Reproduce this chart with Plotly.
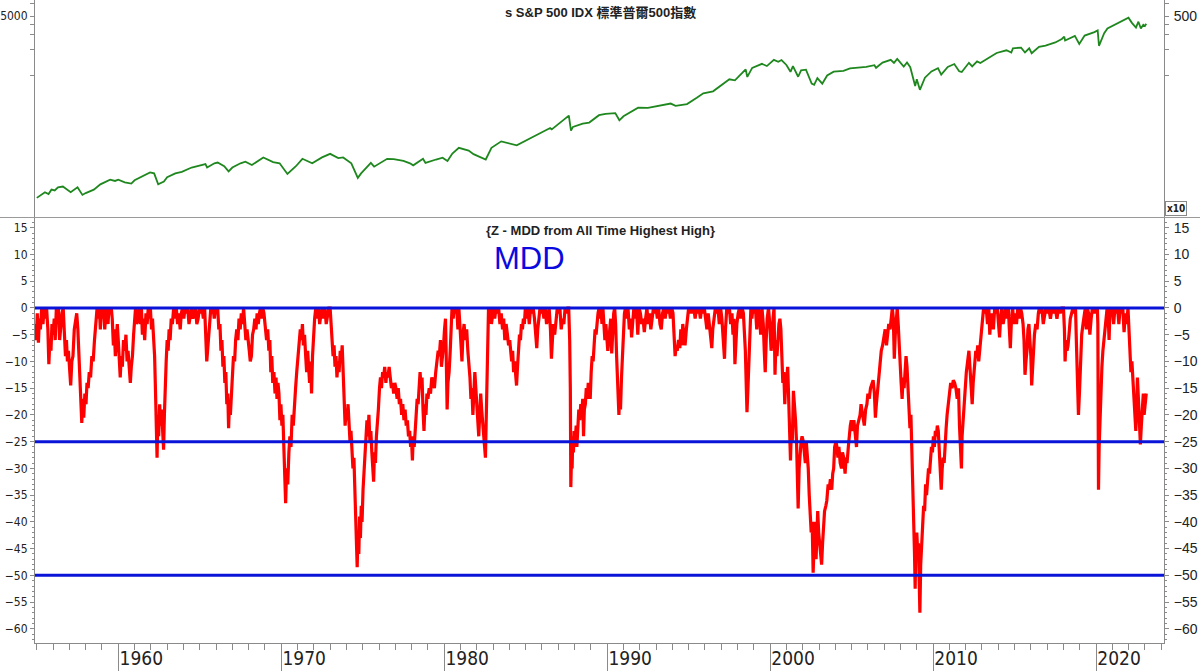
import plotly.graph_objects as go

# ---------------- data ----------------
price_year = [1955.0, 1955.3, 1955.5, 1955.72, 1955.9, 1956.1, 1956.3, 1956.6, 1956.9, 1957.08, 1957.5, 1957.8,
              1958.0, 1958.5, 1958.9, 1959.5, 1959.8, 1960.0, 1960.4, 1960.8, 1961.0, 1961.5, 1961.95, 1962.2,
              1962.45, 1962.8, 1963.0, 1963.5, 1963.9, 1964.5, 1965.0, 1965.35, 1965.45, 1965.9, 1966.1, 1966.5,
              1966.77, 1967.0, 1967.5, 1967.8, 1968.2, 1968.9, 1969.5, 1969.9, 1970.38, 1970.9, 1971.3, 1971.9,
              1972.5, 1973.0, 1973.5, 1973.8, 1974.3, 1974.7, 1974.9, 1975.5, 1975.7, 1976.5, 1976.9, 1977.5,
              1977.9, 1978.1, 1978.7, 1978.85, 1979.5, 1979.9, 1980.2, 1980.5, 1980.9, 1981.5, 1981.8, 1982.55,
              1982.9, 1983.5, 1984.45, 1984.9, 1985.5, 1985.9, 1986.5, 1986.6, 1987.65, 1987.78, 1987.9, 1988.5,
              1988.9, 1989.5, 1989.9, 1990.5, 1990.75, 1991.0, 1991.5, 1991.9, 1992.5, 1993.0, 1993.9, 1994.2,
              1994.9, 1995.5, 1995.9, 1996.5, 1996.9, 1997.5, 1997.84, 1998.5, 1998.6, 1998.9, 1999.5, 1999.8,
              2000.23, 2000.5, 2000.7, 2001.0, 2001.25, 2001.4, 2001.72, 2001.9, 2002.2, 2002.55, 2002.7, 2002.9,
              2003.2, 2003.5, 2003.9, 2004.5, 2004.9, 2005.5, 2005.9, 2006.4, 2006.5, 2006.9, 2007.4, 2007.6,
              2007.8, 2008.2, 2008.4, 2008.6, 2008.9, 2009.0, 2009.19, 2009.5, 2009.9, 2010.3, 2010.5, 2010.9,
              2011.3, 2011.6, 2011.76, 2012.2, 2012.4, 2012.7, 2012.9, 2013.5, 2013.9, 2014.5, 2014.8, 2014.9,
              2015.4, 2015.64, 2015.9, 2016.05, 2016.5, 2016.9, 2017.5, 2017.9, 2018.05, 2018.1, 2018.7, 2018.97,
              2019.3, 2019.9, 2020.1, 2020.18, 2020.5, 2020.7, 2020.9, 2021.5, 2021.99, 2022.2, 2022.45, 2022.6,
              2022.75, 2022.9, 2023.0, 2023.08]
price_value = [36, 40, 42, 40, 45, 44, 48, 49, 45, 42, 48, 39,
               41, 45, 52, 59, 57, 59, 55, 53, 58, 65, 72, 70,
               52, 56, 63, 70, 73, 82, 87, 90, 82, 92, 94, 85,
               74, 82, 92, 96, 88, 108, 95, 92, 69, 85, 104, 92,
               108, 119, 106, 108, 92, 62, 70, 93, 84, 104, 103, 98,
               92, 87, 104, 93, 102, 107, 98, 120, 140, 130, 118, 102,
               140, 167, 150, 167, 190, 211, 240, 231, 336, 224, 247, 270,
               278, 340, 353, 360, 296, 330, 380, 417, 415, 435, 466, 438,
               459, 545, 615, 650, 740, 900, 876, 1180, 960, 1229, 1370, 1290,
               1527, 1450, 1520, 1330, 1103, 1290, 965, 1150, 1170, 800, 776, 930,
               800, 1000, 1110, 1130, 1210, 1230, 1260, 1320, 1230, 1420, 1530, 1406,
               1565, 1270, 1420, 1250, 752, 900, 676, 940, 1115, 1217, 1022, 1257,
               1363, 1120, 1099, 1410, 1278, 1465, 1400, 1650, 1840, 1980, 1862, 2090,
               2130, 1867, 2090, 1829, 2170, 2250, 2450, 2690, 2873, 2581, 2930, 2351,
               2950, 3240, 3386, 2237, 3150, 3580, 3750, 4300, 4796, 4170, 3667, 4305,
               3577, 3950, 3840, 4070]

mdd_year = [
    1954.90, 1954.97, 1955.03, 1955.10, 1955.16, 1955.22, 1955.30, 1955.38, 1955.45, 1955.52, 1955.60, 1955.68,
    1955.74, 1955.80, 1955.87, 1955.93, 1956.00, 1956.07, 1956.13, 1956.20, 1956.27, 1956.33, 1956.40, 1956.47,
    1956.55, 1956.62, 1956.70, 1956.76, 1956.82, 1956.88, 1956.94, 1957.02, 1957.08, 1957.15, 1957.22, 1957.30,
    1957.38, 1957.45, 1957.52, 1957.58, 1957.64, 1957.70, 1957.76, 1957.82, 1957.88, 1957.95, 1958.02, 1958.08,
    1958.15, 1958.22, 1958.30, 1958.38, 1958.46, 1958.54, 1958.62, 1958.70, 1958.77, 1958.84, 1958.90, 1958.96,
    1959.03, 1959.10, 1959.17, 1959.23, 1959.30, 1959.37, 1959.43, 1959.50, 1959.57, 1959.63, 1959.70, 1959.76,
    1959.82, 1959.88, 1959.94, 1960.00, 1960.06, 1960.12, 1960.18, 1960.25, 1960.32, 1960.40, 1960.47, 1960.54,
    1960.60, 1960.67, 1960.74, 1960.80, 1960.87, 1960.94, 1961.00, 1961.06, 1961.12, 1961.20, 1961.28, 1961.35,
    1961.42, 1961.48, 1961.55, 1961.62, 1961.70, 1961.77, 1961.84, 1961.90, 1961.97, 1962.04, 1962.10, 1962.17,
    1962.23, 1962.28, 1962.33, 1962.38, 1962.43, 1962.48, 1962.54, 1962.60, 1962.66, 1962.72, 1962.78, 1962.83,
    1962.88, 1962.94, 1963.00, 1963.06, 1963.12, 1963.18, 1963.25, 1963.32, 1963.40, 1963.48, 1963.56, 1963.64,
    1963.72, 1963.80, 1963.87, 1963.94, 1964.02, 1964.10, 1964.18, 1964.26, 1964.34, 1964.42, 1964.50, 1964.58,
    1964.66, 1964.74, 1964.82, 1964.90, 1964.98, 1965.06, 1965.14, 1965.22, 1965.30, 1965.37, 1965.43, 1965.48,
    1965.54, 1965.61, 1965.68, 1965.75, 1965.82, 1965.89, 1965.96, 1966.03, 1966.10, 1966.17, 1966.24, 1966.30,
    1966.36, 1966.42, 1966.48, 1966.54, 1966.60, 1966.66, 1966.72, 1966.77, 1966.82, 1966.88, 1966.94, 1967.00,
    1967.07, 1967.14, 1967.20, 1967.27, 1967.34, 1967.41, 1967.48, 1967.55, 1967.62, 1967.69, 1967.76, 1967.83,
    1967.90, 1967.97, 1968.04, 1968.10, 1968.17, 1968.24, 1968.31, 1968.38, 1968.45, 1968.52, 1968.59, 1968.66,
    1968.73, 1968.80, 1968.87, 1968.94, 1969.02, 1969.10, 1969.17, 1969.24, 1969.30, 1969.36, 1969.42, 1969.48,
    1969.55, 1969.62, 1969.68, 1969.74, 1969.80, 1969.86, 1969.92, 1969.98, 1970.04, 1970.10, 1970.16, 1970.22,
    1970.27, 1970.33, 1970.40, 1970.47, 1970.53, 1970.60, 1970.67, 1970.74, 1970.81, 1970.88, 1970.95, 1971.02,
    1971.10, 1971.17, 1971.24, 1971.30, 1971.36, 1971.43, 1971.50, 1971.56, 1971.62, 1971.68, 1971.74, 1971.80,
    1971.86, 1971.92, 1971.98, 1972.05, 1972.12, 1972.20, 1972.28, 1972.36, 1972.44, 1972.52, 1972.60, 1972.68,
    1972.76, 1972.84, 1972.92, 1973.00, 1973.06, 1973.12, 1973.18, 1973.24, 1973.30, 1973.36, 1973.42, 1973.48,
    1973.55, 1973.62, 1973.68, 1973.74, 1973.80, 1973.86, 1973.92, 1973.98, 1974.04, 1974.10, 1974.16, 1974.22,
    1974.28, 1974.34, 1974.40, 1974.46, 1974.52, 1974.57, 1974.62, 1974.66, 1974.71, 1974.76, 1974.81, 1974.86,
    1974.91, 1974.96, 1975.02, 1975.08, 1975.14, 1975.20, 1975.26, 1975.32, 1975.38, 1975.44, 1975.50, 1975.56,
    1975.62, 1975.67, 1975.72, 1975.78, 1975.84, 1975.90, 1975.96, 1976.03, 1976.09, 1976.15, 1976.22, 1976.28,
    1976.35, 1976.42, 1976.48, 1976.55, 1976.62, 1976.69, 1976.76, 1976.83, 1976.90, 1976.97, 1977.04, 1977.11,
    1977.18, 1977.25, 1977.32, 1977.39, 1977.46, 1977.53, 1977.60, 1977.67, 1977.74, 1977.81, 1977.88, 1977.94,
    1978.00, 1978.05, 1978.10, 1978.16, 1978.22, 1978.28, 1978.34, 1978.40, 1978.46, 1978.52, 1978.58, 1978.64,
    1978.70, 1978.76, 1978.82, 1978.88, 1978.94, 1979.00, 1979.08, 1979.16, 1979.24, 1979.32, 1979.40, 1979.48,
    1979.56, 1979.63, 1979.70, 1979.77, 1979.83, 1979.90, 1979.96, 1980.02, 1980.08, 1980.13, 1980.18, 1980.23,
    1980.30, 1980.37, 1980.43, 1980.48, 1980.55, 1980.62, 1980.70, 1980.77, 1980.84, 1980.90, 1980.96, 1981.03,
    1981.09, 1981.15, 1981.22, 1981.30, 1981.38, 1981.45, 1981.52, 1981.58, 1981.64, 1981.70, 1981.76, 1981.82,
    1981.88, 1981.94, 1982.00, 1982.06, 1982.12, 1982.18, 1982.24, 1982.30, 1982.36, 1982.42, 1982.48, 1982.53,
    1982.58, 1982.63, 1982.68, 1982.72, 1982.78, 1982.84, 1982.90, 1982.96, 1983.03, 1983.10, 1983.18, 1983.26,
    1983.34, 1983.42, 1983.50, 1983.58, 1983.65, 1983.72, 1983.80, 1983.88, 1983.95, 1984.02, 1984.08, 1984.14,
    1984.20, 1984.26, 1984.32, 1984.38, 1984.44, 1984.50, 1984.56, 1984.62, 1984.68, 1984.74, 1984.80, 1984.86,
    1984.92, 1984.98, 1985.06, 1985.14, 1985.22, 1985.30, 1985.38, 1985.46, 1985.54, 1985.62, 1985.68, 1985.74,
    1985.80, 1985.88, 1985.96, 1986.04, 1986.12, 1986.20, 1986.28, 1986.36, 1986.44, 1986.52, 1986.58, 1986.64,
    1986.70, 1986.78, 1986.86, 1986.94, 1987.02, 1987.10, 1987.18, 1987.26, 1987.34, 1987.42, 1987.50, 1987.58,
    1987.64, 1987.70, 1987.74, 1987.77, 1987.81, 1987.85, 1987.89, 1987.93, 1987.97, 1988.03, 1988.10, 1988.14,
    1988.20, 1988.26, 1988.32, 1988.38, 1988.44, 1988.50, 1988.55, 1988.60, 1988.66, 1988.72, 1988.78, 1988.84,
    1988.90, 1988.96, 1989.02, 1989.08, 1989.14, 1989.20, 1989.26, 1989.32, 1989.38, 1989.44, 1989.50, 1989.56,
    1989.62, 1989.68, 1989.74, 1989.80, 1989.86, 1989.92, 1989.98, 1990.04, 1990.10, 1990.16, 1990.22, 1990.28,
    1990.34, 1990.40, 1990.46, 1990.52, 1990.58, 1990.63, 1990.68, 1990.72, 1990.76, 1990.82, 1990.88, 1990.94,
    1991.00, 1991.06, 1991.12, 1991.20, 1991.28, 1991.36, 1991.44, 1991.50, 1991.56, 1991.64, 1991.72, 1991.80,
    1991.88, 1991.96, 1992.04, 1992.12, 1992.20, 1992.28, 1992.36, 1992.44, 1992.52, 1992.60, 1992.68, 1992.76,
    1992.84, 1992.92, 1993.00, 1993.08, 1993.16, 1993.24, 1993.32, 1993.40, 1993.48, 1993.56, 1993.64, 1993.72,
    1993.80, 1993.88, 1993.96, 1994.04, 1994.10, 1994.17, 1994.24, 1994.30, 1994.38, 1994.46, 1994.52, 1994.58,
    1994.64, 1994.70, 1994.78, 1994.86, 1994.94, 1995.00, 1995.08, 1995.16, 1995.24, 1995.32, 1995.40, 1995.48,
    1995.56, 1995.64, 1995.72, 1995.80, 1995.88, 1995.96, 1996.04, 1996.12, 1996.20, 1996.28, 1996.36, 1996.42,
    1996.48, 1996.56, 1996.64, 1996.72, 1996.80, 1996.88, 1996.96, 1997.04, 1997.12, 1997.20, 1997.26, 1997.34,
    1997.42, 1997.50, 1997.58, 1997.66, 1997.72, 1997.78, 1997.84, 1997.90, 1997.96, 1998.04, 1998.12, 1998.20,
    1998.28, 1998.36, 1998.42, 1998.48, 1998.54, 1998.58, 1998.64, 1998.70, 1998.76, 1998.82, 1998.88, 1998.94,
    1999.02, 1999.10, 1999.18, 1999.26, 1999.34, 1999.42, 1999.50, 1999.58, 1999.64, 1999.70, 1999.76, 1999.82,
    1999.90, 1999.98, 2000.06, 2000.12, 2000.18, 2000.24, 2000.30, 2000.36, 2000.42, 2000.48, 2000.54, 2000.60,
    2000.66, 2000.72, 2000.78, 2000.84, 2000.90, 2000.95, 2001.02, 2001.08, 2001.14, 2001.20, 2001.25, 2001.30,
    2001.36, 2001.43, 2001.50, 2001.56, 2001.62, 2001.67, 2001.72, 2001.78, 2001.84, 2001.90, 2001.96, 2002.04,
    2002.10, 2002.16, 2002.22, 2002.28, 2002.34, 2002.40, 2002.46, 2002.52, 2002.58, 2002.64, 2002.70, 2002.76,
    2002.82, 2002.86, 2002.92, 2002.98, 2003.04, 2003.10, 2003.16, 2003.22, 2003.28, 2003.34, 2003.42, 2003.48,
    2003.56, 2003.62, 2003.70, 2003.78, 2003.84, 2003.90, 2003.96, 2004.04, 2004.10, 2004.16, 2004.22, 2004.30,
    2004.38, 2004.44, 2004.52, 2004.60, 2004.66, 2004.72, 2004.80, 2004.86, 2004.92, 2004.98, 2005.06, 2005.14,
    2005.22, 2005.30, 2005.36, 2005.44, 2005.52, 2005.58, 2005.64, 2005.70, 2005.78, 2005.86, 2005.94, 2006.00,
    2006.08, 2006.16, 2006.24, 2006.32, 2006.40, 2006.46, 2006.52, 2006.58, 2006.66, 2006.74, 2006.82, 2006.90,
    2006.98, 2007.06, 2007.14, 2007.20, 2007.28, 2007.36, 2007.44, 2007.50, 2007.56, 2007.62, 2007.68, 2007.74,
    2007.80, 2007.86, 2007.92, 2007.98, 2008.04, 2008.10, 2008.16, 2008.22, 2008.28, 2008.34, 2008.40, 2008.46,
    2008.52, 2008.58, 2008.64, 2008.70, 2008.75, 2008.80, 2008.86, 2008.90, 2008.94, 2009.00, 2009.06, 2009.10,
    2009.15, 2009.19, 2009.24, 2009.30, 2009.36, 2009.42, 2009.48, 2009.54, 2009.60, 2009.66, 2009.72, 2009.78,
    2009.84, 2009.90, 2009.96, 2010.02, 2010.08, 2010.14, 2010.20, 2010.26, 2010.32, 2010.38, 2010.44, 2010.50,
    2010.56, 2010.62, 2010.68, 2010.74, 2010.80, 2010.86, 2010.92, 2011.00, 2011.08, 2011.16, 2011.24, 2011.32,
    2011.40, 2011.48, 2011.56, 2011.62, 2011.68, 2011.74, 2011.78, 2011.84, 2011.90, 2011.96, 2012.04, 2012.12,
    2012.20, 2012.28, 2012.34, 2012.40, 2012.46, 2012.54, 2012.62, 2012.68, 2012.74, 2012.80, 2012.86, 2012.92,
    2012.98, 2013.05, 2013.10, 2013.18, 2013.26, 2013.34, 2013.42, 2013.48, 2013.54, 2013.62, 2013.70, 2013.78,
    2013.86, 2013.94, 2014.02, 2014.08, 2014.14, 2014.22, 2014.30, 2014.38, 2014.46, 2014.54, 2014.62, 2014.68,
    2014.74, 2014.80, 2014.88, 2014.96, 2015.04, 2015.12, 2015.20, 2015.28, 2015.36, 2015.44, 2015.52, 2015.58,
    2015.64, 2015.70, 2015.76, 2015.82, 2015.88, 2015.94, 2016.00, 2016.05, 2016.10, 2016.16, 2016.22, 2016.30,
    2016.38, 2016.46, 2016.52, 2016.60, 2016.68, 2016.76, 2016.84, 2016.92, 2017.00, 2017.10, 2017.20, 2017.30,
    2017.40, 2017.50, 2017.60, 2017.70, 2017.80, 2017.90, 2018.00, 2018.06, 2018.10, 2018.16, 2018.22, 2018.28,
    2018.34, 2018.42, 2018.50, 2018.58, 2018.66, 2018.74, 2018.80, 2018.86, 2018.92, 2018.98, 2019.04, 2019.12,
    2019.20, 2019.28, 2019.34, 2019.40, 2019.46, 2019.54, 2019.62, 2019.70, 2019.78, 2019.86, 2019.94, 2020.02,
    2020.08, 2020.11, 2020.15, 2020.19, 2020.24, 2020.30, 2020.36, 2020.42, 2020.48, 2020.55, 2020.62, 2020.68,
    2020.74, 2020.80, 2020.86, 2020.92, 2021.00, 2021.08, 2021.16, 2021.24, 2021.32, 2021.40, 2021.48, 2021.56,
    2021.64, 2021.72, 2021.80, 2021.88, 2021.96, 2022.02, 2022.08, 2022.14, 2022.20, 2022.26, 2022.32, 2022.38,
    2022.44, 2022.48, 2022.54, 2022.60, 2022.66, 2022.72, 2022.78, 2022.84, 2022.90, 2022.95, 2023.02, 2023.08]
mdd_value = [
    -3, -6, -1, -6.5, -2, -4, 0, -3, 0, -2, 0, -4,
    -10.5, -6, -8, -3, -5, -2, -6, 0, -2, 0, -6, -3,
    -1, 0, -5, -9, -6, -10, -8, -12, -14.5, -10, -9, -4,
    -2, -1, -4, -9, -13, -18, -21.5, -17, -20.5, -16, -18, -14,
    -15, -12, -13, -9, -10, -6, -3, 0, -2, 0, -4, 0,
    -2, 0, -4, -1, 0, -3, 0, -1, 0, -2, -7, -4,
    -9, -6, -3, -6, -10, -13, -9, -11, -6, -8, -5, -10,
    -8, -12, -14, -11, -9, -5, -2, 0, -3, -2, 0, -3,
    0, -5, -2, -6, -1, -3, 0, -2, 0, -4, -2, -6,
    -9, -15, -22, -28, -20, -24, -18, -22, -19, -23, -26.5, -20,
    -14, -10, -6, -8, -4, -6, -2, -3, 0, -2, 0, -3,
    -1, -4, -1, 0, -2, 0, -1, 0, -3, -1, 0, -2,
    -1, 0, -3, -2, 0, -1, 0, -2, 0, -4, -10, -8,
    -5, -2, 0, -1, 0, -2, 0, -1, 0, -4, -3, -8,
    -6, -11, -9, -14, -12, -18, -16, -22.5, -18, -20, -15, -13,
    -9, -10, -6, -4, -6, -2, -4, -1, -3, 0, -3, -6,
    -4, -7, -8, -10, -9, -5, -4, -2, -4, -1, -3, -1,
    0, -2, 0, -1, -3, -6, -4, -8, -6, -12, -9, -14,
    -12, -16, -13, -17, -14, -16, -21, -18, -22, -20, -26, -31,
    -36.5, -30, -33, -27, -24, -26, -20, -22, -17, -15, -12, -9,
    -6, -4, -6, -3, -7, -5, -9, -12, -8, -11, -14, -10,
    -16, -9, -5, -2, 0, -2, 0, -3, -1, 0, -2, 0,
    -3, -1, 0, 0, -3, -6, -9, -7, -11, -9, -13, -10,
    -12, -8, -10, -7, -11, -17, -22, -19, -21, -18, -22, -25,
    -23, -27, -30, -28, -33, -38, -43, -48.5, -42, -46, -39, -43,
    -37, -40, -34, -30, -26, -22, -21, -24, -20, -25, -23, -27,
    -30, -32.5, -27, -29, -24, -22, -19, -15, -13, -15, -12, -13,
    -11, -14, -12, -13, -11, -13, -15, -14, -16, -14, -15, -17,
    -15, -18, -17, -20, -18, -21, -19, -22, -21, -24, -23, -26,
    -25, -28.5, -24, -26, -22, -20, -17, -18, -13, -12, -15, -13,
    -19, -23, -18, -20, -16, -17, -15, -16, -13, -14, -15, -12,
    -10, -8, -9, -6, -11, -9, -7, -4, -2, -10, -19, -14,
    -12, -8, -4, 0, -2, 0, -1, 0, -4, 0, -3, -6,
    -10, -5, -3, -6, -4, -8, -10, -13, -17, -15, -20, -14,
    -12, -15, -18, -21, -24, -20, -16, -19, -22, -24, -26, -28,
    -22, -12, -5, 0, -2, 0, -3, -1, 0, -2, 0, -1,
    0, -3, -1, -4, -2, -6, -3, -5, -7, -6, -9, -10,
    -8, -12, -10, -13, -14.5, -11, -7, -5, -6, -3, -4, -2,
    -3, 0, -2, 0, -3, 0, -1, 0, -2, -5, -7.5, -4,
    -2, 0, -1, 0, -2, 0, -3, -1, 0, -4, -9.5, -6,
    -3, -5, -2, 0, -1, 0, -4, -2, -3, 0, -1, 0,
    0, -6, -15, -33.5, -28, -30, -24, -27, -23, -25, -22, -26,
    -22, -19, -21, -18, -20, -17, -24, -19, -18, -15, -17, -14,
    -15, -17, -12, -9, -10, -6, -4, -5, -2, -1, 0, -2,
    0, -3, 0, -4, -6, -3, -5, -8, -6, -4, -2, -8.5,
    -4, -1, 0, -3, -9, -15, -18, -20, -17, -19, -13, -8,
    -4, -1, 0, -2, 0, -4, -2, -5.5, -3, 0, -2, 0,
    -5, 0, -1, -3, -2, -4.5, -2, 0, -3, -1, -4, -2,
    0, -1, 0, -2, 0, -3, -4, -1, 0, -2, 0, -1,
    0, -2, 0, -1, -5, -9, -7, -8, -6, -7.5, -4, -7,
    -3, -5, -7, -4, -2, 0, -1, 0, -1, 0, -2, 0,
    -1, 0, -2, 0, -1, 0, -2, -4, -1, -3, -5, -7.5,
    -4, -2, 0, -1, 0, -3, 0, -2, -5, -9.5, -4, 0,
    -1, 0, -3, -1, -5, -2, -10.5, -6, -3, -1, 0, -2,
    0, -1, -4, -8, -15, -19.5, -15, -9, -3, 0, -2, 0,
    -1, 0, -4, 0, -1, -5, 0, -3, -8, -12, -6, -2,
    0, -3, -8, -6, -2, 0, -12.5, -6, -9, -4, -3, -2,
    -4, -9, -14, -12, -18, -14, -13, -11, -18, -24, -28.5, -23,
    -25, -15.5, -18, -21, -25, -30, -37.5, -30, -27, -25, -24, -25,
    -27, -29, -25, -27, -30, -35, -37.5, -42, -40, -49.5, -44, -40,
    -47, -41, -38, -42, -44, -46, -48, -44, -40, -38, -37, -36,
    -33, -34, -32, -34, -31, -30, -26, -25, -26, -28, -26, -29,
    -30, -27, -28, -31, -28, -29, -26, -23, -22, -21, -23, -21,
    -24, -26, -22, -21, -20, -18, -19, -20, -22, -19, -18, -16,
    -17, -15, -14, -13.5, -16, -20.5, -18, -16, -13, -10, -8, -7,
    -5, -4, -7, -5, -3, -4, -1, 0, -2, -9.5, -5, -3,
    0, -3, -8, -10, -14, -17, -13, -15, -11, -9, -11, -16,
    -20, -22.5, -20, -26, -35, -40, -46, -52.5, -44, -42, -46, -44,
    -52, -57, -48, -44, -41, -37, -38, -33, -35, -32, -30, -31,
    -27, -26, -27, -24, -26, -23, -24, -22, -23, -28, -31, -34,
    -30, -28, -29, -24, -22.5, -20, -18, -16, -14, -15, -13.5, -14,
    -15, -17, -15, -22, -27, -30, -24, -21, -18, -16, -12, -10,
    -8, -12, -17, -18, -14, -10, -8, -9, -7, -10, -8, -6,
    -4, -2, 0, -1, 0, -3, 0, -5, -2, -1, -4, 0,
    -1, 0, -3, -5.5, -2, 0, -3, -1, 0, -2, 0, -4,
    -7.5, -3, 0, -3, -1, -3, 0, -2, 0, -1, -3, -6,
    -12.5, -10, -8, -4, -3, -6, -9, -14.5, -11, -7, -5, -3,
    -4, -1, 0, -1, 0, -3, -1, 0, -1, 0, -2, 0,
    -1, 0, -2, 0, -1, 0, 0, -4, -10, -6, -8, -7,
    -5, -2, -1, 0, -1, 0, -7, -12, -20, -16, -11, -5,
    -3, -1, 0, -4, 0, -1, -5, -2, 0, -1, 0, -1,
    0, -3, -34, -26, -20, -15, -11, -8, -6, -4, -2, 0,
    -1, -6, 0, -1, 0, -3, 0, -1, 0, -3, 0, -1,
    0, -4.5, -1, -3, 0, -4, -8, -12, -10, -14, -18, -20,
    -23, -20, -13, -17, -21, -25.5, -22, -19, -16, -20, -17, -16]

mdd_levels = [0, -25, -50]
decade_ticks = [1960, 1970, 1980, 1990, 2000, 2010, 2020]
decade_labels = ["1960", "1970", "1980", "1990", "2000", "2010", "2020"]
mdd_ticks = [15, 10, 5, 0, -5, -10, -15, -20, -25, -30, -35, -40, -45, -50, -55, -60]
price_ticks = [1000, 2000, 3000, 4000, 5000, 7000]
price_labels_left = ["", "", "", "", "5000", ""]
price_labels_right = ["", "", "", "", "500", ""]

# ---------------- layout geometry ----------------
W, H = 1200, 671
ML, MR, MT, MB = 35, 36, 0, 28
PH = H - MT - MB
PW = W - ML - MR
top_domain = [1 - 217.5 / PH, 1]
bot_domain = [0, (PH - 218) / PH]
x_range = [1954.89, 2024.17]
price_range = [1.3248, 3.8896]
mdd_range = [-62.66, 16.83]

AX = "#8a8a8a"
TXT = "#222222"
NARROW = "Liberation Sans Narrow, Arial Narrow, DejaVu Sans Condensed, Liberation Sans, Arial, sans-serif"
SANS = "Liberation Sans, Arial, sans-serif"

fig = go.Figure()

fig.add_trace(go.Scatter(x=price_year, y=price_value, xaxis="x", yaxis="y", mode="lines",
                         line=dict(color="#1e871e", width=1.8), showlegend=False, hoverinfo="skip"))
fig.add_trace(go.Scatter(x=price_year, y=price_value, xaxis="x", yaxis="y3", mode="lines",
                         line=dict(color="rgba(0,0,0,0)", width=0), showlegend=False, hoverinfo="skip"))
fig.add_trace(go.Scatter(x=mdd_year, y=mdd_value, xaxis="x", yaxis="y2", mode="lines",
                         line=dict(color="#ff0000", width=3.2), showlegend=False, hoverinfo="skip"))
fig.add_trace(go.Scatter(x=mdd_year, y=mdd_value, xaxis="x", yaxis="y4", mode="lines",
                         line=dict(color="rgba(0,0,0,0)", width=0), showlegend=False, hoverinfo="skip"))

shapes = []
for lvl in mdd_levels:
    shapes.append(dict(type="line", xref="x domain", yref="y2", x0=0, x1=1, y0=lvl, y1=lvl,
                       line=dict(color="#0a14d8", width=3), layer="above"))
# separator between the two panels (full page width)
shapes.append(dict(type="line", xref="paper", yref="paper", x0=-ML / PW, x1=1 + MR / PW,
                   y0=top_domain[0], y1=top_domain[0], line=dict(color="#9a9a9a", width=1)))


def px_to_paper_x(px):
    return (px - ML) / PW


def py_to_paper_y(py):
    return 1 - (py - MT) / PH


annotations = [
    dict(text="<b>s S&P 500 IDX 標準普爾500指數</b>", x=px_to_paper_x(600), y=py_to_paper_y(12),
         xref="paper", yref="paper", showarrow=False, xanchor="center", yanchor="middle",
         font=dict(family="Liberation Sans, Arial, Noto Sans CJK TC", size=13, color=TXT)),
    dict(text="<b>{Z - MDD from All Time Highest High}</b>", x=px_to_paper_x(600), y=py_to_paper_y(230),
         xref="paper", yref="paper", showarrow=False, xanchor="center", yanchor="middle",
         font=dict(family=SANS, size=13, color=TXT)),
    dict(text="MDD", x=px_to_paper_x(529), y=py_to_paper_y(258),
         xref="paper", yref="paper", showarrow=False, xanchor="center", yanchor="middle",
         font=dict(family=SANS, size=31, color="#0a0ae0")),
    dict(text="<b>x10</b>", x=px_to_paper_x(1176), y=py_to_paper_y(209),
         xref="paper", yref="paper", showarrow=False, xanchor="center", yanchor="middle",
         font=dict(family=NARROW, size=10, color=TXT), bordercolor="#888", borderwidth=1, borderpad=1,
         bgcolor="white"),
]

fig.update_layout(
    width=W, height=H,
    margin=dict(l=ML, r=MR, t=MT, b=MB, pad=0, autoexpand=False),
    paper_bgcolor="white", plot_bgcolor="white",
    showlegend=False,
    shapes=shapes,
    annotations=annotations,
    xaxis=dict(
        range=x_range, anchor="y2", showgrid=False, zeroline=False, automargin=False,
        showline=True, linecolor=AX, linewidth=1,
        ticks="outside", tickmode="array", tickvals=decade_ticks, ticktext=decade_labels,
        ticklen=28, tickwidth=1, tickcolor=AX,
        tickfont=dict(family=NARROW, size=19, color=TXT),
        ticklabelshift=23, ticklabelstandoff=-30,
        minor=dict(ticks="outside", dtick=1, tick0=1955, ticklen=6, tickcolor=AX, showgrid=False),
    ),
    yaxis=dict(
        domain=top_domain, anchor="x", type="log", range=price_range, automargin=False,
        showgrid=False, zeroline=False, showline=True, linecolor=AX, linewidth=1,
        ticks="outside", ticklen=4, tickcolor=AX, tickmode="array",
        tickvals=price_ticks, ticktext=price_labels_left,
        tickfont=dict(family=NARROW, size=12, color=TXT),
    ),
    yaxis3=dict(
        overlaying="y", side="right", anchor="x", type="log", range=price_range, automargin=False,
        showgrid=False, zeroline=False, showline=True, linecolor=AX, linewidth=1,
        ticks="outside", ticklen=4, tickcolor=AX, tickmode="array",
        tickvals=price_ticks, ticktext=price_labels_right,
        tickfont=dict(family=SANS, size=14, color=TXT), ticklabelstandoff=2,
    ),
    yaxis2=dict(
        domain=bot_domain, anchor="x", range=mdd_range, automargin=False,
        showgrid=False, zeroline=False, showline=True, linecolor=AX, linewidth=1,
        ticks="outside", ticklen=4, tickcolor=AX, tickmode="array", tickvals=mdd_ticks,
        tickfont=dict(family=NARROW, size=12, color=TXT),
        minor=dict(ticks="outside", dtick=1, ticklen=2, tickcolor=AX, showgrid=False),
    ),
    yaxis4=dict(
        overlaying="y2", side="right", anchor="x", range=mdd_range, automargin=False,
        showgrid=False, zeroline=False, showline=True, linecolor=AX, linewidth=1,
        ticks="outside", ticklen=4, tickcolor=AX, tickmode="array", tickvals=mdd_ticks,
        tickfont=dict(family=SANS, size=14, color=TXT), ticklabelstandoff=2,
        minor=dict(ticks="outside", dtick=1, ticklen=2, tickcolor=AX, showgrid=False),
    ),
)

fig.write_html("out.html")
